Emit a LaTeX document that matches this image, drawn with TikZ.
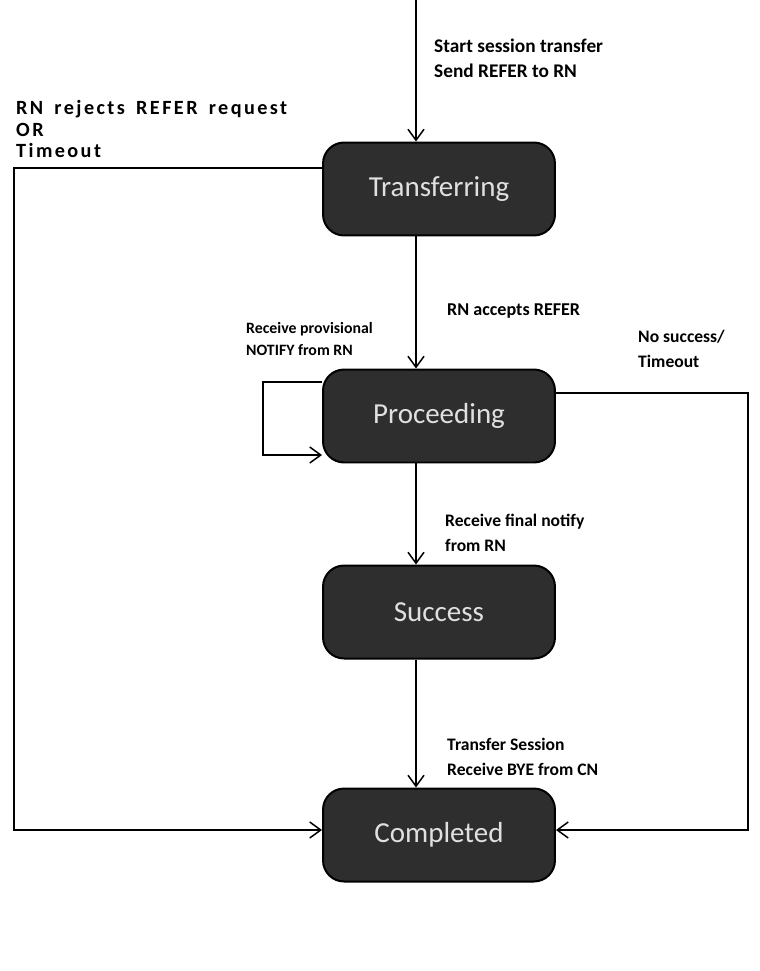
\documentclass[tikz,border=0pt]{standalone}
\usepackage{fontspec}
\setmainfont{Carlito}
\newfontfamily\spacedfont[LetterSpace=12,WordSpace=1.6]{Carlito}
\usetikzlibrary{positioning,arrows.meta}

\tikzset{
	state/.style={rounded corners=12pt, fill=black!82, draw=black, line width=0.4mm,
		minimum width=4.64cm, minimum height=1.86cm, text=black!12, font=\fontsize{16.5}{18}\selectfont},
	lbl/.style={anchor=west, align=left, font=\bfseries\fontsize{10}{14}\selectfont},
	flow/.style={line width=0.3mm, ->, >={Straight Barb[length=2.2mm,width=3.2mm]}},
}

\begin{document}
\begin{tikzpicture}[x=0.02cm, y=-0.02cm]
		%%%%% START %%%%%
		\useasboundingbox (0, 0) rectangle (760, 971);
		
		\node[state] (transferring) at (439, 189) {Transferring};
		\node[state] (proceeding) at (439, 416) {Proceeding};
		\node[state] (success) at (439, 612) {Success};
		\node[state] (completed) at (439, 835) {Completed};
		
		\coordinate (start) at (416, 0);
		\coordinate (leftcorner) at (14, 168);
		\coordinate (leftend) at (14, 830);
		\coordinate (loopcorner) at (263, 382);
		\coordinate (loopend) at (263, 455);
		\coordinate (rightcorner) at (748, 393);
		\coordinate (rightend) at (748, 830);
		
		\draw[flow] (start) -- (start |- transferring.north);
		\draw[flow] (start |- transferring.south) -- (start |- proceeding.north);
		\draw[flow] (start |- proceeding.south) -- (start |- success.north);
		\draw[flow] (start |- success.south) -- (start |- completed.north);
		
		\draw[flow] (leftcorner -| transferring.west) -- (leftcorner) -- (leftend) -- (leftend -| completed.west);
		\draw[flow] (loopcorner -| proceeding.west) -- (loopcorner) -- (loopend) -- (loopend -| proceeding.west);
		\draw[flow] (rightcorner -| proceeding.east) -- (rightcorner) -- (rightend) -- (rightend -| completed.east);
		
		\node[lbl, font=\bfseries\fontsize{11}{14}\selectfont] (l1) at (428, 58) {Start session transfer\\Send REFER to RN};
		\node[lbl, font=\spacedfont\bfseries\fontsize{11.5}{12.5}\selectfont] (l2) at (10, 129) {RN rejects REFER request\\OR\\Timeout};
		\node[lbl, font=\bfseries\fontsize{10.3}{14}\selectfont] (l3) at (441, 311) {RN accepts REFER};
		\node[lbl, font=\bfseries\fontsize{9}{13}\selectfont] (l4) at (240, 339) {Receive provisional\\NOTIFY from RN};
		\node[lbl] (l5) at (632, 349) {No success/\\Timeout};
		\node[lbl] (l6) at (439, 533) {Receive final notify\\from RN};
		\node[lbl] (l7) at (441, 757) {Transfer Session\\Receive BYE from CN};
		
		%%%%% END %%%%%
	\end{tikzpicture}
\end{document}
